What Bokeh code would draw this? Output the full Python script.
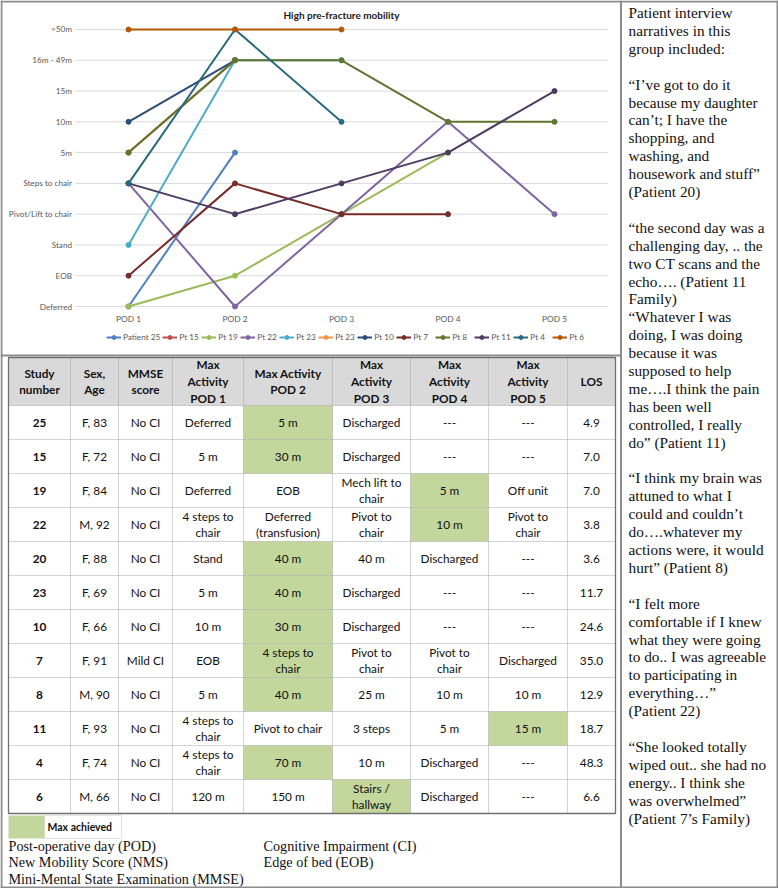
from bokeh.plotting import figure
from bokeh.models import (Range1d, Legend, LegendItem, ColumnDataSource)
from bokeh.core.properties import value
from bokeh.embed import file_html
from bokeh.resources import INLINE

# ---------------- chart data ----------------
pods = ["POD 1", "POD 2", "POD 3", "POD 4", "POD 5"]
levels = ["Deferred", "EOB", "Stand", "Pivot/Lift to chair", "Steps to chair",
          "5m", "10m", "15m", "16m - 49m", ">50m"]
chart_title = "High pre-fracture mobility"
series_names = ["Patient 25", "Pt 15", "Pt 19", "Pt 22", "Pt 23", "Pt 23",
                "Pt 10", "Pt 7", "Pt 8", "Pt 11", "Pt 4", "Pt 6"]
series_colors = ["#4F81BD", "#C0504D", "#9BBB59", "#8064A2", "#4BACC6", "#F79646",
                 "#2C4D75", "#772C2A", "#5F7530", "#4D3B62", "#276A7C", "#B65708"]
pt25 = ["Deferred", "5m"]
pt15 = ["5m", "16m - 49m"]
pt19 = ["Deferred", "EOB", "Pivot/Lift to chair", "5m"]
pt22 = ["Steps to chair", "Deferred", "Pivot/Lift to chair", "10m", "Pivot/Lift to chair"]
pt20 = ["Stand", "16m - 49m", "16m - 49m"]
pt23 = ["5m", "16m - 49m"]
pt10 = ["10m", "16m - 49m"]
pt7 = ["EOB", "Steps to chair", "Pivot/Lift to chair", "Pivot/Lift to chair"]
pt8 = ["5m", "16m - 49m", "16m - 49m", "10m", "10m"]
pt11 = ["Steps to chair", "Pivot/Lift to chair", "Steps to chair", "5m", "15m"]
pt4 = ["Steps to chair", ">50m", "10m"]
pt6 = [">50m", ">50m", ">50m"]
series_values = [pt25, pt15, pt19, pt22, pt20, pt23, pt10, pt7, pt8, pt11, pt4, pt6]

# ---------------- table data ----------------
header = ["Study\nnumber", "Sex,\nAge", "MMSE\nscore", "Max\nActivity\nPOD 1",
          "Max Activity\nPOD 2", "Max\nActivity\nPOD 3", "Max\nActivity\nPOD 4",
          "Max\nActivity\nPOD 5", "LOS"]
study = ["25", "15", "19", "22", "20", "23", "10", "7", "8", "11", "4", "6"]
sex_age = ["F, 83", "F, 72", "F, 84", "M, 92", "F, 88", "F, 69", "F, 66", "F, 91",
           "M, 90", "F, 93", "F, 74", "M, 66"]
mmse = ["No CI", "No CI", "No CI", "No CI", "No CI", "No CI", "No CI", "Mild CI",
        "No CI", "No CI", "No CI", "No CI"]
pod1 = ["Deferred", "5 m", "Deferred", "4 steps to\nchair", "Stand", "5 m", "10 m", "EOB",
        "5 m", "4 steps to\nchair", "4 steps to\nchair", "120 m"]
pod2 = ["5 m", "30 m", "EOB", "Deferred\n(transfusion)", "40 m", "40 m", "30 m",
        "4 steps to\nchair", "40 m", "Pivot to chair", "70 m", "150 m"]
pod3 = ["Discharged", "Discharged", "Mech lift to\nchair", "Pivot to\nchair", "40 m",
        "Discharged", "Discharged", "Pivot to\nchair", "25 m", "3 steps", "10 m",
        "Stairs /\nhallway"]
pod4 = ["---", "---", "5 m", "10 m", "Discharged", "---", "---", "Pivot to\nchair",
        "10 m", "5 m", "Discharged", "Discharged"]
pod5 = ["---", "---", "Off unit", "Pivot to\nchair", "---", "---", "---", "Discharged",
        "10 m", "15 m", "---", "---"]
los = ["4.9", "7.0", "7.0", "3.8", "3.6", "11.7", "24.6", "35.0", "12.9", "18.7",
       "48.3", "6.6"]
max_pod = [2, 2, 4, 4, 2, 2, 2, 2, 2, 5, 2, 3]   # POD number with max achieved

legend_text = "Max achieved"
footnotes_left = ["Post-operative day (POD)", "New Mobility Score (NMS)",
                  "Mini-Mental State Examination (MMSE)"]
footnotes_right = ["Cognitive Impairment (CI)", "Edge of bed (EOB)"]

narrative = [
    "Patient interview", "narratives in this", "group included:", "",
    "\u201cI\u2019ve got to do it", "because my daughter", "can\u2019t; I have the",
    "shopping, and", "washing, and", "housework and stuff\u201d", "(Patient 20)", "",
    "\u201cthe second day was a", "challenging day, .. the", "two CT scans and the",
    "echo\u2026. (Patient 11", "Family)",
    "\u201cWhatever I was", "doing, I was doing", "because it was", "supposed to help",
    "me\u2026.I think the pain", "has been well", "controlled, I really",
    "do\u201d (Patient 11)", "",
    "\u201cI think my brain was", "attuned to what I", "could and couldn\u2019t",
    "do\u2026.whatever my", "actions were, it would", "hurt\u201d (Patient 8)", "",
    "\u201cI felt more", "comfortable if I knew", "what they were going",
    "to do.. I was agreeable", "to participating in", "everything\u2026\u201d",
    "(Patient 22)", "",
    "\u201cShe looked totally", "wiped out.. she had no", "energy.. I think she",
    "was overwhelmed\u201d", "(Patient 7\u2019s Family)",
]

# ---------------- page geometry (px) ----------------
W, H = 778, 888
SPLIT_X, CHART_BOT = 620, 355
BORDER = "#8c8c8c"
AXIS_TXT = "#595959"
GREEN = "#c3d69b"
INK = "#111111"

# chart scales: POD index / level index -> page px
POD0_PX, POD_STEP = 128.0, 106.5
LVL0_PX, LVL_STEP = 306.0, 30.78
pod_range = Range1d(-POD0_PX / POD_STEP, (W - POD0_PX) / POD_STEP)
lvl_range = Range1d((LVL0_PX - H) / LVL_STEP, LVL0_PX / LVL_STEP)

p = figure(width=W, height=H, x_range=Range1d(0, W), y_range=Range1d(H, 0),
           x_axis_location=None, y_axis_location=None,
           output_backend="svg", toolbar_location=None,
           min_border=0, min_border_left=0, min_border_right=0,
           min_border_top=0, min_border_bottom=0)
p.extra_x_ranges = {"pod": pod_range}
p.extra_y_ranges = {"lvl": lvl_range}
p.xgrid.visible = False
p.ygrid.visible = False
p.outline_line_color = None
p.background_fill_color = "white"
p.border_fill_color = "white"

LATO = value("Lato")
SERIF = value("Liberation Serif")
CH = dict(x_range_name="pod", y_range_name="lvl")

# ---- chart: gridlines, tick labels, title ----
n_lv = len(levels)
p.segment(x0=-0.5, x1=len(pods) - 0.5, y0=list(range(n_lv)), y1=list(range(n_lv)),
          line_color="#d9d9d9", line_width=1, **CH)
p.text(x=-0.53, y=list(range(n_lv)), text=levels, text_font=LATO,
       text_font_size=value("8.2px"), text_color=AXIS_TXT, text_align="right",
       text_baseline="middle", **CH)
p.text(x=list(range(len(pods))), y=-0.39, text=pods, text_font=LATO,
       text_font_size=value("8.4px"), text_color=AXIS_TXT, text_align="center",
       text_baseline="middle", **CH)
p.text(x=[(len(pods) - 1) / 2], y=[n_lv - 1 + 14 / LVL_STEP], text=[chart_title],
       text_font=LATO, text_font_style="bold", text_font_size=value("10px"),
       text_color="#1a1a1a", text_align="center", text_baseline="middle", **CH)

# ---- chart: series ----
items = []
for name, color, vals in zip(series_names, series_colors, series_values):
    src = ColumnDataSource(dict(x=list(range(len(vals))),
                                y=[levels.index(v) for v in vals]))
    ln = p.line("x", "y", source=src, line_color=color, line_width=2, **CH)
    sc = p.scatter("x", "y", source=src, size=5, fill_color=color, line_color=color, **CH)
    items.append(LegendItem(label=value(name), renderers=[ln, sc]))

legend = Legend(items=items, orientation="horizontal", location=(106, H - 342),
                label_text_font="Lato", label_text_font_size="8.2px",
                label_text_color=AXIS_TXT, glyph_width=15, glyph_height=10,
                label_height=10, label_standoff=2, spacing=2, padding=2,
                margin=0, border_line_color=None, background_fill_alpha=0)
p.add_layout(legend, "center")

# ---- table ----
col_edges = [8, 70, 118, 172, 243, 332, 410, 488, 567, 615]
head_top, head_bot, row_h = 357, 405, 34.0
n_rows = len(study)
row_top = [head_bot + i * row_h for i in range(n_rows)]
cx = [(col_edges[j] + col_edges[j + 1]) / 2 for j in range(len(col_edges) - 1)]
cy = [t + row_h / 2 for t in row_top]
table_bot = row_top[-1] + row_h

p.quad(left=col_edges[0], right=col_edges[-1], top=head_top, bottom=head_bot,
       fill_color="#d9d9d9", line_color=None)
p.quad(left=[col_edges[2 + m] for m in max_pod], right=[col_edges[3 + m] for m in max_pod],
       top=row_top, bottom=[t + row_h for t in row_top], fill_color=GREEN, line_color=None)
p.segment(x0=col_edges[1:-1], x1=col_edges[1:-1], y0=head_top, y1=table_bot,
          line_color="#a6a6a6", line_width=1, line_dash="1 1")
p.segment(x0=col_edges[0], x1=col_edges[-1], y0=row_top, y1=row_top,
          line_color="#a6a6a6", line_width=1, line_dash="1 1")
p.quad(left=col_edges[0], right=col_edges[-1], top=head_top, bottom=table_bot,
       fill_alpha=0, line_color="#6f6f6f", line_width=1.3)

p.text(x=cx, y=(head_top + head_bot) / 2, text=header, text_font=LATO,
       text_font_style="bold", text_font_size=value("11.8px"), text_align="center",
       text_baseline="middle", text_line_height=1.13, text_color=INK)
body_cols = [sex_age, mmse, pod1, pod2, pod3, pod4, pod5, los]
bx, by, bt = [], [], []
for j, colvals in enumerate(body_cols):
    for i, t in enumerate(colvals):
        bx.append(cx[j + 1])
        by.append(cy[i])
        bt.append(t)
p.text(x=bx, y=by, text=bt, text_font=LATO, text_font_size=value("11.8px"),
       text_align="center", text_baseline="middle", text_line_height=1.11,
       text_color=INK)
p.text(x=cx[0], y=cy, text=study, text_font=LATO, text_font_style="bold",
       text_font_size=value("11.8px"), text_align="center", text_baseline="middle",
       text_color=INK)

# ---- "Max achieved" key ----
p.quad(left=44, right=121, top=815, bottom=838, fill_color="white",
       line_color="#e3e3e3", line_width=1)
p.quad(left=8, right=44, top=815, bottom=838, fill_color=GREEN, line_color=None)
p.text(x=[47], y=[826.5], text=[legend_text], text_font=LATO, text_font_style="bold",
       text_font_size=value("10.5px"), text_align="left", text_baseline="middle",
       text_color=INK)

# ---- footnotes ----
fy = [845 + 16.5 * i for i in range(len(footnotes_left))]
p.text(x=8, y=fy, text=footnotes_left, text_font=SERIF, text_font_size=value("14.2px"),
       text_align="left", text_baseline="middle", text_color=INK)
p.text(x=263, y=fy[:len(footnotes_right)], text=footnotes_right, text_font=SERIF,
       text_font_size=value("14.2px"), text_align="left", text_baseline="middle",
       text_color=INK)

# ---- narrative column ----
ny = [12 + 17.9 * i for i in range(len(narrative))]
p.text(x=628, y=ny, text=narrative, text_font=SERIF, text_font_size=value("15.3px"),
       text_align="left", text_baseline="middle", text_color=INK)

# ---- page / panel borders ----
p.segment(x0=[0, 0, 1, W - 1, SPLIT_X + 0.5, 0],
          x1=[W, W, 1, W - 1, SPLIT_X + 0.5, SPLIT_X],
          y0=[1, H - 1, 0, 0, 0, CHART_BOT],
          y1=[1, H - 1, H, H, H, CHART_BOT],
          line_color=BORDER, line_width=2)

open("out.html", "w").write(file_html(p, INLINE))
